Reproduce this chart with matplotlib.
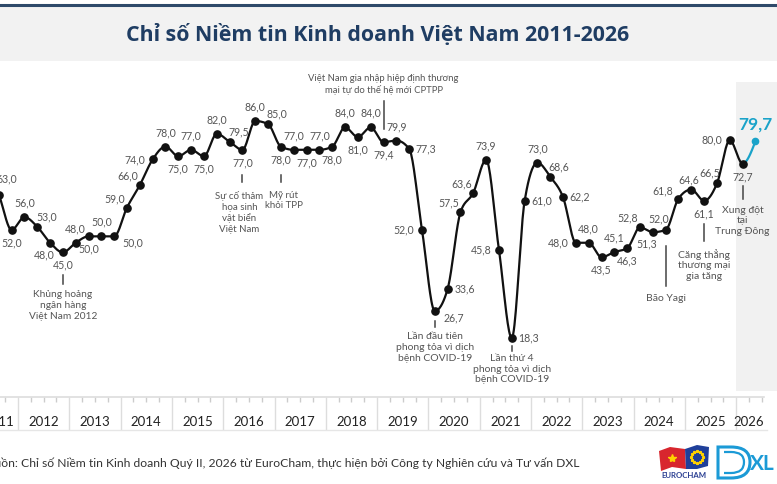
import numpy as np
import matplotlib
matplotlib.use('Agg')
import matplotlib.pyplot as plt
from matplotlib.patches import Rectangle, Polygon
from matplotlib.path import Path
from matplotlib.patches import PathPatch

plt.rcParams['font.family'] = ['Lato', 'DejaVu Sans']

# quarters 2011Q2 .. 2026Q2
quarters = [(y, q) for y in range(2011, 2027) for q in range(1, 5)][1:62]

bci = [71.0, 63.0, 52.0,
       56.0, 53.0, 48.0, 45.0,
       48.0, 50.0, 50.0, 50.0,
       59.0, 66.0, 74.0, 78.0,
       75.0, 77.0, 75.0, 82.0,
       79.5, 77.0, 86.0, 85.0,
       78.0, 77.0, 77.0, 77.0,
       78.0, 84.0, 81.0, 84.0,
       79.4, 79.9, 77.3, 52.0,
       26.7, 33.6, 57.5, 63.6,
       73.9, 45.8, 18.3, 61.0,
       73.0, 68.6, 62.2, 48.0,
       48.0, 43.5, 45.1, 46.3,
       52.8, 51.3, 52.0, 61.8,
       64.6, 61.1, 66.5, 80.0,
       72.7, 79.7]

years = list(range(2011, 2027))

# where each value label sits relative to its point
label_pos = ['a', 'ar2', 'b',
             'a', 'ar', 'bl', 'b',
             'a', 'b', 'a', 'br',
             'al', 'al', 'l', 'a',
             'b', 'a', 'b', 'a',
             'ar', 'b', 'a', 'ar',
             'b', 'a', 'b', 'a',
             'b', 'a', 'b', 'a',
             'b', 'a', 'r', 'l',
             'br', 'r', 'al', 'al',
             'a', 'l', 'r', 'r',
             'a', 'ar', 'r', 'l',
             'a', 'b', 'a', 'b',
             'al', 'bl', 'al2', 'al3',
             'a2', 'b', 'al2', 'l',
             'b', 'last']

# event notes: quarter, text, line start/end, text offset (pixels below point), text shift, size
events = [
    ((2012, 4), 'Khủng hoảng\nngân hàng\nViệt Nam 2012', 23, 32, 37, 0, 7.3),
    ((2016, 2), 'Sự cố thảm\nhọa sinh\nvật biển\nViệt Nam', 25, 32, 40, -3, 7.0),
    ((2017, 1), 'Mỹ rút\nkhỏi TPP', 28, 35, 43, 3, 7.0),
    ((2019, 1), 'Việt Nam gia nhập hiệp định thương\nmại tự do thế hệ mới CPTPP', -41, -13, -48, 0, 6.8),
    ((2020, 1), 'Lần đầu tiên\nphong tỏa vì dịch\nbệnh COVID-19', 10, 16, 20, 0, 7.5),
    ((2021, 3), 'Lần thứ 4\nphong tỏa vì dịch\nbệnh COVID-19', 8, 13, 15, 0, 7.5),
    ((2024, 3), 'Bão Yagi', 16, 56, 63, 0, 7.5),
    ((2025, 2), 'Căng thẳng\nthương mại\ngia tăng', 23, 40, 47, 0, 7.5),
    ((2026, 1), 'Xung đột\ntại\nTrung Đông', 22, 35, 41, 0, 7.5),
]

OFFS = {'a': (0, -15), 'b': (0, 12), 'l': (-18, -1), 'r': (17, -1),
        'al': (-12, -10), 'ar': (9, -11), 'bl': (-6, 11), 'br': (19, 6),
        'ar2': (8, -17), 'al2': (-7, -12), 'al3': (-16, -9), 'a2': (-3, -11)}

W, H = 777, 485
TEAL = '#1aa3c9'
GREY = '#555555'


def monotone(x, y, n=20):
    x = np.asarray(x, float)
    y = np.asarray(y, float)
    h = np.diff(x)
    s = np.diff(y) / h
    m = np.zeros_like(y)
    for i in range(1, len(y) - 1):
        p = (s[i - 1] * h[i] + s[i] * h[i - 1]) / (h[i - 1] + h[i])
        m[i] = (np.sign(s[i - 1]) + np.sign(s[i])) * min(abs(s[i - 1]), abs(s[i]), 0.5 * abs(p))
    m[0] = (3 * s[0] - m[1]) / 2
    m[-1] = (3 * s[-1] - m[-2]) / 2
    segs = []
    tt = np.linspace(0, 1, n)
    for i in range(len(h)):
        h00 = 2 * tt**3 - 3 * tt**2 + 1
        h10 = tt**3 - 2 * tt**2 + tt
        h01 = -2 * tt**3 + 3 * tt**2
        h11 = tt**3 - tt**2
        sx = x[i] + tt * h[i]
        sy = h00 * y[i] + h10 * h[i] * m[i] + h01 * y[i + 1] + h11 * h[i] * m[i + 1]
        segs.append((sx, sy))
    return segs


def fmt(v):
    return ('%.1f' % v).replace('.', ',')


def main():
    fig = plt.figure(figsize=(W / 100, H / 100), dpi=100)

    # background layer in pixel coordinates
    bg = fig.add_axes([0, 0, 1, 1], zorder=0)
    bg.set_xlim(0, W)
    bg.set_ylim(H, 0)
    bg.axis('off')
    bg.add_patch(Rectangle((0, 8), W, 54, color='#f2f2f2', lw=0))
    bg.plot([0, W], [6, 6], color='#2e4a6a', lw=2.2)
    bg.text(378, 35, 'Chỉ số Niềm tin Kinh doanh Việt Nam 2011-2026', ha='center', va='center',
            fontsize=15.4, fontweight='bold', color='#1f3d63', family=['Open Sans', 'DejaVu Sans'])
    bg.text(579, 463, 'Nguồn: Chỉ số Niềm tin Kinh doanh Quý II, 2026 từ EuroCham, '
            'thực hiện bởi Công ty Nghiên cứu và Tư vấn DXL',
            ha='right', va='center', fontsize=8.75, color='#333333')

    # EuroCham logo
    bg.add_patch(Polygon([(659, 452), (670, 448), (685, 450), (686, 470), (672, 468), (661, 472)],
                         color='#d8262e', lw=0))
    bg.add_patch(Polygon([(685, 450), (697, 446), (709, 448), (708, 467), (697, 470), (686, 470)],
                         color='#1f3f9a', lw=0))
    bg.plot([672], [459], marker='*', color='#ffd100', ms=6)
    for a in np.linspace(0, 2 * np.pi, 12, endpoint=False):
        bg.plot([697 + 6 * np.cos(a)], [458 + 6 * np.sin(a)], marker='*', color='#ffd100', ms=2)
    bg.text(684, 476, 'EUROCHAM', ha='center', va='center', fontsize=5.6, fontweight='bold',
            color='#2a3f92')

    # DXL logo
    verts = [(718, 448), (731, 448), (750, 448), (750, 463), (750, 479), (731, 479), (718, 479), (718, 448)]
    codes = [Path.MOVETO, Path.LINETO, Path.CURVE3, Path.CURVE3, Path.CURVE3, Path.CURVE3,
             Path.LINETO, Path.CLOSEPOLY]
    bg.add_patch(PathPatch(Path(verts, codes), fill=False, ec='#1b9ad6', lw=2.2))
    verts2 = [(724, 453), (731, 453), (744, 453), (744, 463), (744, 474), (731, 474), (724, 474)]
    codes2 = [Path.MOVETO, Path.LINETO, Path.CURVE3, Path.CURVE3, Path.CURVE3, Path.CURVE3, Path.LINETO]
    bg.add_patch(PathPatch(Path(verts2, codes2), fill=False, ec='#1b9ad6', lw=1.6))
    bg.text(762, 464, 'XL', ha='center', va='center', fontsize=15, fontweight='bold', color='#1b9ad6')

    # main chart
    t = np.array([y + (q - 0.5) / 4 for y, q in quarters])
    t0 = 2012 - 18 / 51.3
    t1 = 2012 + (W - 18) / 51.3
    ax_bottom = (H - 397.6) / H
    ax_height = (397.6 - 65) / H
    ymax = (397.6 - 65) / 3.205
    ax = fig.add_axes([0, ax_bottom, 1, ax_height], zorder=1)
    ax.set_facecolor('none')
    ppu = ax_height * H / ymax
    for sp in ax.spines.values():
        sp.set_visible(False)
    ax.set_yticks([])

    # axis: year separators and quarter ticks
    ax.set_xticks(years[1:])
    ax.set_xticks([y + k / 4 for y in years[:-1] for k in (1, 2, 3)] + [2026.25, 2026.5], minor=True)
    ax.tick_params(axis='x', which='major', length=33 * 0.72, color='#dddddd', width=1,
                   labelbottom=False)
    ax.tick_params(axis='x', which='minor', length=5 * 0.72, color='#cccccc', width=1)
    ax.set_xlim(t0, t1)
    ax.set_ylim(0, ymax)

    ax.axvspan(2026, t1, ymin=0.017, ymax=0.946, color='#f1f1f1', lw=0, zorder=0)

    xt = ax.get_xaxis_transform()
    ax.plot([t0, 2026.55], [0, 0], color='#dddddd', lw=1.2, transform=xt, clip_on=False)
    ax.plot([t0, 2026.6], [-33.4 / (ax_height * H)] * 2, color='#e6e6e6', lw=1,
            transform=xt, clip_on=False)
    for yr in years:
        qs = [tq for tq, (y, q) in zip(t, quarters) if y == yr]
        ax.text((qs[0] + qs[-1]) / 2, -24.4 / (ax_height * H), str(yr), transform=xt,
                ha='center', va='center', fontsize=9.5, color='#222222', clip_on=False)

    # smoothed line
    segs = monotone(t, bci)
    bx = np.concatenate([s[0] for s in segs[:-1]])
    by = np.concatenate([s[1] for s in segs[:-1]])
    ax.plot(bx, by, color='#111111', lw=1.6, zorder=3, solid_capstyle='round')
    ax.plot(segs[-1][0], segs[-1][1], color=TEAL, lw=1.6, zorder=3)
    ax.plot(t[:-1], bci[:-1], 'o', color='#111111', ms=5.2, zorder=4)
    ax.plot(t[-1:], bci[-1:], 'o', color=TEAL, ms=4.5, zorder=4)

    for x, v, p in zip(t, bci, label_pos):
        if p == 'last':
            ax.annotate(fmt(v), (x, v), xytext=(0, 18), textcoords='offset pixels',
                        ha='center', va='center', fontsize=12.5, fontweight='bold', color=TEAL,
                        annotation_clip=False)
            continue
        dx, dy = OFFS[p]
        ax.annotate(fmt(v), (x, v), xytext=(dx, -dy), textcoords='offset pixels',
                    ha='center', va='center', fontsize=7.6, color=GREY, annotation_clip=False)

    for qk, txt, l0, l1, toff, tdx, fs in events:
        i = quarters.index(qk)
        x, v = t[i], bci[i]
        ax.plot([x, x], [v - l0 / ppu, v - l1 / ppu], color='#444444', lw=1.1, zorder=2)
        ax.annotate(txt, (x, v), xytext=(tdx, -toff), textcoords='offset pixels',
                    ha='center', va='top' if toff > 0 else 'bottom', fontsize=fs,
                    color=GREY, linespacing=1.25, annotation_clip=False)

    fig.savefig('out.png', dpi=100)


if __name__ == '__main__':
    main()
